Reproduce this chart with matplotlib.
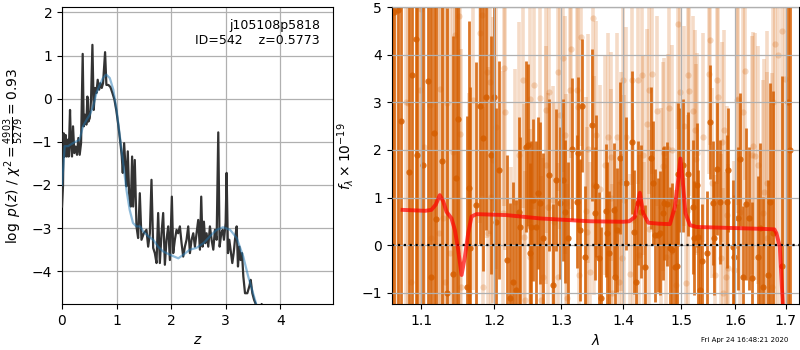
import numpy as np
import matplotlib
matplotlib.use("Agg")
import matplotlib.pyplot as plt
from matplotlib.ticker import NullLocator, FixedLocator

# ---------------- p(z) panel data ----------------
pz_z = [0.000, 0.018, 0.031, 0.049, 0.067, 0.086, 0.104, 0.122, 0.147, 0.165,
        0.183, 0.202, 0.226, 0.251, 0.275, 0.300, 0.324, 0.349, 0.379, 0.398,
        0.422, 0.446, 0.465, 0.483, 0.508, 0.532, 0.557, 0.581, 0.606, 0.630,
        0.654, 0.679, 0.703, 0.728, 0.752, 0.789, 0.813, 0.850, 0.887, 0.924,
        0.960, 0.997, 1.034, 1.070, 1.095, 1.113, 1.138, 1.162, 1.180, 1.205,
        1.229, 1.260, 1.284, 1.303, 1.333, 1.364, 1.394, 1.425, 1.456, 1.498,
        1.547, 1.578, 1.609, 1.639, 1.670, 1.700, 1.731, 1.761, 1.792, 1.823,
        1.853, 1.884, 1.914, 1.945, 1.976, 2.012, 2.037, 2.067, 2.098, 2.128,
        2.159, 2.190, 2.220, 2.251, 2.281, 2.312, 2.343, 2.373, 2.404, 2.434,
        2.465, 2.495, 2.526, 2.550, 2.575, 2.599, 2.624, 2.648, 2.679, 2.709,
        2.740, 2.771, 2.801, 2.832, 2.862, 2.887, 2.917, 2.942, 2.966, 2.997,
        3.015, 3.040, 3.064, 3.095, 3.119, 3.144, 3.168, 3.199, 3.223, 3.248,
        3.272, 3.297, 3.321, 3.352, 3.394, 3.431, 3.456, 3.486, 3.517, 3.554,
        3.596, 3.630, 3.657, 3.690, 3.800, 4.000, 4.500, 5.000]
pz_logp = [-2.50, -2.03, -0.80, -1.34, -0.84, -1.34, -0.95, -1.34, -0.26, -1.11,
           -1.34, -0.64, -1.26, -1.11, -1.30, -0.91, -1.30, -1.03, 1.04, -0.64,
           -0.37, -0.60, 0.05, -0.53, -0.45, -0.02, 1.25, -0.26, 0.25, 0.13,
           0.44, 0.21, 0.36, 0.25, 0.36, 1.08, 0.32, 0.32, 0.27, 0.13,
           -0.02, -0.29, -0.64, -1.03, -1.34, -1.72, -1.03, -1.57, -2.03, -1.22,
           -2.19, -2.50, -1.34, -2.50, -1.42, -2.96, -3.23, -2.19, -3.27, -3.12,
           -3.04, -3.43, -3.12, -1.88, -3.46, -3.58, -3.81, -2.65, -3.81, -3.12,
           -2.65, -3.85, -3.27, -2.96, -3.74, -2.27, -3.58, -3.27, -3.04, -3.12,
           -2.96, -3.35, -3.66, -3.43, -3.27, -2.96, -3.58, -3.27, -3.12, -3.43,
           -3.12, -2.81, -3.50, -2.27, -3.43, -2.85, -3.35, -3.12, -3.43, -2.96,
           -3.27, -3.50, -3.04, -3.27, -0.78, -3.43, -3.12, -3.04, -3.27, -2.88,
           -1.72, -3.58, -3.27, -3.58, -3.81, -3.58, -3.27, -2.96, -3.89, -3.43,
           -3.74, -3.58, -4.12, -4.51, -4.51, -4.35, -4.20, -4.51, -4.66, -4.78,
           -5.13, -5.40, -4.76, -5.50, -6.20, -7.50, -10.0, -13.0]

smooth_z = [0.00, 0.05, 0.11, 0.20, 0.32, 0.385, 0.45, 0.51, 0.57, 0.63,
            0.69, 0.75, 0.81, 0.875, 0.94, 1.00, 1.06, 1.12, 1.18, 1.24,
            1.30, 1.36, 1.43, 1.49, 1.58, 1.67, 1.76, 1.85, 1.98, 2.13,
            2.22, 2.34, 2.46, 2.59, 2.71, 2.83, 2.95, 3.08, 3.20, 3.32,
            3.41, 3.50, 3.57, 3.70, 4.00]
smooth_logp = [-2.00, -1.10, -1.10, -1.03, -0.95, -0.64, -0.49, -0.37, -0.18, 0.13,
               0.32, 0.48, 0.56, 0.48, 0.21, -0.26, -0.87, -1.49, -2.11, -2.58,
               -2.88, -2.96, -2.96, -3.08, -3.19, -3.27, -3.43, -3.54, -3.62, -3.70,
               -3.62, -3.50, -3.46, -3.35, -3.19, -3.04, -2.98, -3.04, -3.23, -3.66,
               -4.12, -4.51, -4.82, -5.60, -7.50]

z_ticks = [0, 1, 2, 3, 4]
logp_ticks = [-4, -3, -2, -1, 0, 1, 2]

# ---------------- spectrum panel data ----------------
dark_wave = [1.0620, 1.0645, 1.0693, 1.0740, 1.0834, 1.0882, 1.0925, 1.0942, 1.1021, 1.1087,
             1.1123, 1.1163, 1.1190, 1.1280, 1.1338, 1.1425, 1.1461, 1.1485, 1.1609, 1.1645,
             1.1664, 1.1738, 1.1804, 1.1833, 1.1879, 1.1960, 1.1997, 1.2032, 1.2069, 1.2177,
             1.2225, 1.2274, 1.2323, 1.2361, 1.2372, 1.2471, 1.2495, 1.2520, 1.2545, 1.2570,
             1.2621, 1.2645, 1.2671, 1.2721, 1.2812, 1.2874, 1.2926, 1.2978, 1.3030, 1.3056,
             1.3108, 1.3162, 1.3241, 1.3267, 1.3292, 1.3319, 1.3372, 1.3489, 1.3532, 1.3549,
             1.3602, 1.3625, 1.3716, 1.3730, 1.3766, 1.3848, 1.3860, 1.3898, 1.3943, 1.4038,
             1.4140, 1.4179, 1.4218, 1.4252, 1.4292, 1.4367, 1.4466, 1.4500, 1.4540, 1.4592,
             1.4627, 1.4674, 1.4705, 1.4744, 1.4797, 1.4833, 1.4891, 1.4932, 1.4944, 1.4980,
             1.5040, 1.5129, 1.5214, 1.5235, 1.5281, 1.5300, 1.5342, 1.5390, 1.5464, 1.5526,
             1.5588, 1.5610, 1.5650, 1.5713, 1.5839, 1.5870, 1.5952, 1.5985, 1.6061, 1.6093,
             1.6157, 1.6209, 1.6268, 1.6320, 1.6450, 1.6482, 1.6548, 1.6646, 1.6686, 1.6747,
             1.6915, 1.7050, 1.7090]
dark_flux = [5.20, 4.90, 4.95, 2.60, 1.53, 3.57, 4.34, 1.90, 1.68, 3.45,
             -0.68, 2.35, 0.55, 1.76, -1.01, -0.60, 1.42, 2.65, -0.88, 1.21,
             -0.07, 0.84, 2.92, 2.25, 3.12, 1.89, 3.12, 0.49, 1.58, -0.31,
             -1.12, -0.77, -0.95, 0.70, 0.37, 2.07, 2.10, -0.17, 0.38, 0.95,
             0.38, 1.09, 0.88, 0.14, 1.47, -0.84, 1.37, 0.88, 1.37, 0.70,
             0.14, 2.02, 0.91, 1.93, 0.32, 2.93, -0.25, 2.52, 0.67, 1.24,
             -0.28, -1.12, 0.72, 0.25, -0.17, 0.74, -0.68, 0.32, 1.83, 1.30,
             2.16, 0.28, -0.77, 0.88, 0.70, -0.46, 1.83, 1.30, 0.21, 0.22,
             0.25, 0.67, 0.89, 0.86, -0.07, -0.10, -0.46, -0.44, 1.49, 1.58,
             1.68, 1.50, 0.80, 0.14, 1.26, 0.17, -0.95, -0.34, -0.17, 2.58,
             0.88, 0.15, 1.61, 0.91, 0.91, 1.58, -0.04, -0.25, 0.56, 1.80,
             -0.67, 0.86, 0.56, -0.70, -0.25, 0.35, -0.88, -0.63, 0.90, 0.25,
             -0.44, 3.00, 2.00]
dark_err = [7.0, 7.0, 7.0, 7.0, 7.0, 7.0, 7.0, 7.0, 7.0, 7.0,
            7.0, 6.5, 6.5, 6.0, 6.0, 5.0, 5.0, 4.0, 3.6, 3.5,
            3.4, 3.0, 2.9, 2.8, 2.8, 2.5, 2.4, 2.4, 2.3, 2.2,
            2.0, 2.1, 1.9, 2.0, 1.9, 1.8, 1.7, 1.9, 1.8, 1.7,
            1.8, 1.6, 1.7, 1.8, 1.6, 1.7, 1.5, 1.6, 1.7, 1.5,
            1.6, 1.5, 1.4, 1.6, 1.5, 1.4, 1.5, 1.6, 1.4, 1.5,
            1.4, 1.5, 1.4, 1.5, 1.3, 1.4, 1.5, 1.3, 1.6, 1.4,
            1.5, 1.3, 1.4, 1.3, 1.4, 1.3, 1.5, 1.3, 1.4, 1.2,
            1.3, 1.4, 1.2, 1.3, 1.3, 1.4, 1.2, 1.3, 1.5, 1.3,
            1.4, 1.3, 1.4, 1.2, 1.3, 1.4, 1.3, 1.2, 1.3, 1.2,
            1.3, 1.2, 1.4, 1.3, 1.4, 1.3, 1.4, 1.3, 1.5, 1.4,
            1.5, 1.6, 1.5, 1.6, 1.7, 1.8, 1.9, 2.0, 2.5, 3.0,
            4.0, 8.0, 8.0]

pale_wave = [1.0650, 1.0695, 1.0803, 1.0830, 1.0868, 1.0977, 1.1000, 1.1040, 1.1110, 1.1130,
             1.1230, 1.1244, 1.1289, 1.1312, 1.1343, 1.1379, 1.1420, 1.1448, 1.1507, 1.1516,
             1.1539, 1.1640, 1.1700, 1.1794, 1.1830, 1.1845, 1.1890, 1.1905, 1.1936, 1.1960,
             1.1983, 1.2021, 1.2126, 1.2136, 1.2153, 1.2249, 1.2302, 1.2357, 1.2420, 1.2439,
             1.2455, 1.2520, 1.2530, 1.2585, 1.2671, 1.2686, 1.2716, 1.2762, 1.2773, 1.2797,
             1.2812, 1.2865, 1.2890, 1.2943, 1.2952, 1.2978, 1.3021, 1.3056, 1.3070, 1.3083,
             1.3134, 1.3150, 1.3251, 1.3265, 1.3275, 1.3308, 1.3383, 1.3399, 1.3424, 1.3451,
             1.3504, 1.3519, 1.3559, 1.3609, 1.3698, 1.3749, 1.3789, 1.3799, 1.3810, 1.3898,
             1.3926, 1.3965, 1.3975, 1.3997, 1.4020, 1.4047, 1.4105, 1.4139, 1.4160, 1.4246,
             1.4272, 1.4310, 1.4332, 1.4350, 1.4408, 1.4431, 1.4442, 1.4482, 1.4581, 1.4639,
             1.4676, 1.4705, 1.4737, 1.4772, 1.4785, 1.4837, 1.4914, 1.4932, 1.4947, 1.4980,
             1.5052, 1.5093, 1.5124, 1.5129, 1.5142, 1.5214, 1.5251, 1.5263, 1.5281, 1.5402,
             1.5515, 1.5526, 1.5558, 1.5618, 1.5650, 1.5681, 1.5726, 1.5744, 1.5764, 1.5787,
             1.5826, 1.5839, 1.5870, 1.5978, 1.6030, 1.6061, 1.6093, 1.6157, 1.6189, 1.6320,
             1.6339, 1.6384, 1.6438, 1.6548, 1.6560, 1.6614, 1.6630, 1.6714, 1.6747, 1.6781,
             1.6850, 1.6920, 1.6990]
pale_flux = [4.90, 4.97, 3.01, 2.99, -0.77, 3.26, 4.97, 2.07, 2.94, 0.14,
             0.25, 3.29, 0.56, -0.77, 2.98, -0.17, 1.96, 4.41, 4.82, 2.33,
             -0.88, -1.01, 3.05, 4.47, 4.83, -0.89, 3.64, 0.25, 3.43, 1.01,
             1.79, 2.49, 0.67, 3.72, 2.80, -1.15, 0.91, 1.89, 3.47, 0.16,
             -1.15, 3.07, -0.25, 3.36, 3.10, -1.15, -0.67, 2.85, 1.68, 0.80,
             3.22, 0.95, 0.49, -0.67, 3.64, 2.73, 3.94, 2.31, 0.88, -1.12,
             3.26, 4.13, 3.27, 2.90, -0.63, 4.38, 0.71, 0.28, 2.03, -0.56,
             4.78, 1.26, 2.31, 1.17, 1.68, 2.27, 0.98, 1.86, -1.01, 2.27,
             -0.77, 1.33, -0.28, 3.47, 0.95, 2.28, -0.61, 3.47, 0.53, 3.48,
             -0.21, 3.57, 1.89, -0.46, 2.54, 0.33, 3.27, 3.59, 2.82, 0.79,
             1.66, 1.94, -0.26, 2.01, 2.89, 2.00, -0.84, 0.88, 4.64, 3.22,
             2.50, -0.79, 0.74, 3.57, 3.24, 2.82, 2.43, 1.80, 1.93, 2.27,
             3.59, 4.31, 1.30, -0.63, 3.48, 3.12, -0.28, 2.17, -1.01, 2.43,
             -0.67, 0.63, -0.49, -0.53, 3.05, 3.08, 0.70, 2.79, 3.66, 1.89,
             2.08, 1.87, 1.68, 0.67, 1.12, 1.31, 0.14, -0.88, 3.01, 4.22,
             4.00, 4.50, 3.50]
pale_err = [7.0, 7.0, 7.0, 7.0, 7.0, 7.0, 7.0, 7.0, 7.0, 7.0,
            6.5, 6.5, 6.0, 6.0, 6.0, 5.5, 5.5, 5.0, 5.0, 5.0,
            5.0, 4.2, 4.0, 4.0, 3.8, 3.8, 3.5, 3.5, 3.2, 3.0,
            3.0, 3.0, 3.0, 2.9, 2.9, 2.8, 2.8, 2.8, 2.7, 2.8,
            2.7, 2.6, 2.7, 2.6, 2.5, 2.6, 2.5, 2.6, 2.5, 2.4,
            2.5, 2.4, 2.5, 2.4, 2.5, 2.4, 2.4, 2.5, 2.3, 2.4,
            2.5, 2.3, 2.4, 2.3, 2.4, 2.3, 2.4, 2.2, 2.4, 2.3,
            2.2, 2.3, 2.4, 2.2, 2.3, 2.2, 2.3, 2.2, 2.3, 2.2,
            2.1, 2.3, 2.2, 2.1, 2.2, 2.3, 2.1, 2.2, 2.1, 2.2,
            2.1, 2.2, 2.1, 2.2, 2.0, 2.1, 2.2, 2.1, 2.0, 2.1,
            2.2, 2.0, 2.1, 2.0, 2.1, 2.2, 2.0, 2.1, 2.2, 2.0,
            2.1, 2.2, 2.0, 2.1, 2.2, 2.0, 2.1, 2.0, 2.1, 2.2,
            2.1, 2.2, 2.0, 2.1, 2.2, 2.1, 2.2, 2.1, 2.2, 2.1,
            2.2, 2.3, 2.2, 2.3, 2.2, 2.4, 2.3, 2.4, 2.3, 2.5,
            2.4, 2.6, 2.5, 2.8, 2.8, 3.2, 3.5, 4.5, 5.0, 5.5,
            7.0, 7.0, 7.0]

model_wave = [1.0755, 1.0900, 1.1050, 1.1132, 1.1190, 1.1244, 1.1290, 1.1335, 1.1403, 1.1448,
              1.1494, 1.1541, 1.1586, 1.1632, 1.1679, 1.1748, 1.2177, 1.2671, 1.3451, 1.4000,
              1.4100, 1.4195, 1.4240, 1.4280, 1.4337, 1.4424, 1.4600, 1.4802, 1.4890, 1.4949,
              1.4990, 1.5040, 1.5080, 1.5160, 1.5280, 1.6540, 1.6770, 1.6810, 1.6880, 1.6910,
              1.6940, 1.6970]
model_flux = [0.74, 0.73, 0.72, 0.74, 0.85, 1.05, 0.92, 0.70, 0.56, 0.32,
              -0.10, -0.63, -0.25, 0.25, 0.60, 0.65, 0.63, 0.56, 0.50, 0.49,
              0.50, 0.59, 0.85, 1.10, 0.67, 0.47, 0.45, 0.44, 0.80, 1.37,
              1.82, 1.22, 0.67, 0.42, 0.38, 0.34, 0.33, 0.25, -0.04, -0.67,
              -1.23, -2.00]

wave_ticks = [1.1, 1.2, 1.3, 1.4, 1.5, 1.6, 1.7]
flux_ticks = [-1, 0, 1, 2, 3, 4, 5]

# ---------------- figure ----------------
fig = plt.figure(figsize=(8, 3.5), dpi=100)
ax1 = fig.add_axes([0.0775, 0.1314, 0.3392, 0.8477])
ax2 = fig.add_axes([0.4896, 0.1314, 0.5091, 0.8477])

# p(z)
ax1.plot(pz_z, pz_logp, color='0.2', lw=1.6, zorder=3)
ax1.plot(smooth_z, smooth_logp, color='tab:blue', alpha=0.5, lw=1.6, zorder=4)
ax1.set_xlim(0, 4.97)
ax1.set_ylim(-4.76, 2.12)
ax1.set_xticks(z_ticks)
ax1.set_yticks(logp_ticks)
ax1.grid(True, color='#b0b0b0', lw=0.9)
ax1.set_axisbelow(True)
ax1.set_xlabel(r'$z$')
ax1.set_ylabel(r'$\log\ p(z)$ / $\chi^2=\frac{4903}{5279}=0.93$')
ax1.text(0.95, 0.96, 'j105108p5818\nID=542    z=0.5773', ha='right', va='top',
         transform=ax1.transAxes, fontsize=9)

# spectrum
gcol = (0.8353, 0.3686, 0.0)
ax2.errorbar(pale_wave, pale_flux, pale_err, color=gcol, alpha=0.22, marker='o',
             ms=4.5, mew=0, linestyle='None', elinewidth=2.6, zorder=1)
ax2.errorbar(dark_wave, dark_flux, dark_err, color=gcol, alpha=0.85, marker='o',
             ms=4.5, mew=0, linestyle='None', elinewidth=2.0, zorder=1.2)
ax2.plot(model_wave, model_flux, color='r', alpha=0.7, lw=2.8, zorder=3)
ax2.axhline(0, color='k', ls=':', lw=1.6, zorder=2.8)
ax2.set_xscale('log')
ax2.set_xlim(1.0616, 1.727)
ax2.set_ylim(-1.24, 5.0)
ax2.xaxis.set_major_locator(FixedLocator(wave_ticks))
ax2.xaxis.set_minor_locator(NullLocator())
ax2.set_xticklabels(['%.1f' % t for t in wave_ticks])
ax2.set_yticks(flux_ticks)
ax2.grid(True, color='#b0b0b0', lw=0.9, zorder=2.5)
ax2.set_axisbelow(False)
ax2.set_xlabel(r'$\lambda$')
ax2.set_ylabel(r'$f_\lambda \times 10^{-19}$')

fig.text(0.985, 0.02, 'Fri Apr 24 16:48:21 2020', ha='right', va='bottom', fontsize=5)

fig.savefig('out.png', dpi=100)
